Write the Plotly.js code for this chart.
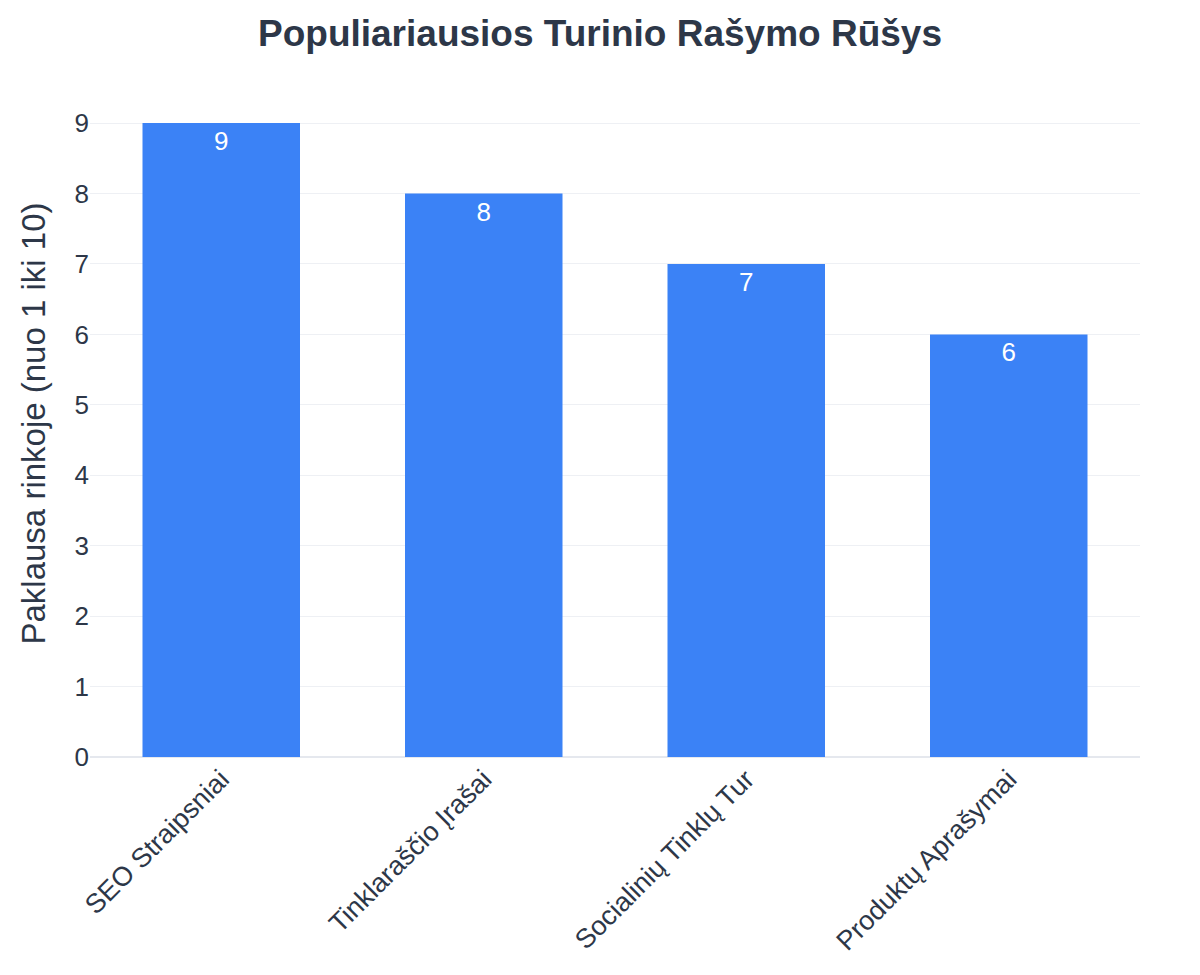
<!DOCTYPE html>
<html>
<head>
<meta charset="utf-8">
<script src="https://cdn.plot.ly/plotly-3.0.1.min.js"></script>
<style>
  html, body { margin: 0; padding: 0; background: #fff; }
  #chart { width: 1200px; height: 975px; }
</style>
</head>
<body>
<div id="chart"></div>
<script>
const categories = ['SEO Straipsniai', 'Tinklaraščio Įrašai', 'Socialinių Tinklų Tur', 'Produktų Aprašymai']
const demand = [9, 8, 7, 6]

const FONT = 'Liberation Sans, Arial, sans-serif'
const COLOR_BAR = '#3b82f6'
const COLOR_TEXT = '#2d3748'

const traces = [
  {
    type: 'bar',
    x: categories,
    y: demand,
    text: demand.map(String),
    textposition: 'inside',
    insidetextanchor: 'end',
    textfont: { family: FONT, size: 26, color: '#ffffff' },
    marker: { color: COLOR_BAR },
    hoverinfo: 'x+y'
  }
]

const layout = {
  width: 1200,
  height: 975,
  paper_bgcolor: '#ffffff',
  plot_bgcolor: '#ffffff',
  font: { family: FONT, color: COLOR_TEXT },
  title: {
    text: '<b>Populiariausios Turinio Rašymo Rūšys</b>',
    font: { family: FONT, size: 37, color: COLOR_TEXT },
    x: 0.5,
    y: 0.966,
    yanchor: 'middle'
  },
  margin: { l: 90, r: 60, t: 90, b: 218 },
  bargap: 0.4,
  showlegend: false,
  xaxis: {
    tickangle: -45,
    tickfont: { family: FONT, size: 27, color: COLOR_TEXT },
    showgrid: false,
    showline: false
  },
  yaxis: {
    title: { text: 'Paklausa rinkoje (nuo 1 iki 10)', font: { family: FONT, size: 33, color: COLOR_TEXT }, standoff: 18 },
    tickfont: { family: FONT, size: 26, color: COLOR_TEXT },
    dtick: 1,
    range: [0, 9.47],
    gridcolor: '#eef0f4',
    zeroline: true,
    zerolinecolor: '#e5e8ee',
    zerolinewidth: 2
  }
}

Plotly.newPlot('chart', traces, layout, { displayModeBar: false })
</script>
</body>
</html>
